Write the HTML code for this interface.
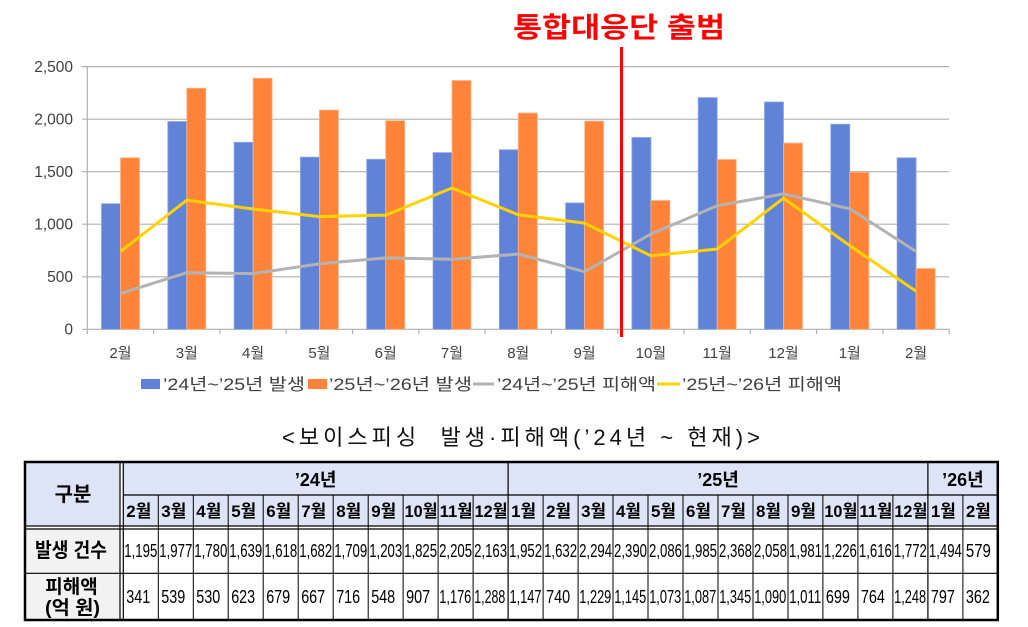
<!DOCTYPE html>
<html><head><meta charset="utf-8"><style>
html,body{margin:0;padding:0;background:#fff;width:1028px;height:627px;overflow:hidden}
svg{display:block}
text{font-family:"Liberation Sans","Noto Sans CJK KR",sans-serif}
</style></head><body>
<svg width="1028" height="627" viewBox="0 0 1028 627" xmlns="http://www.w3.org/2000/svg">
<rect width="1028" height="627" fill="#fff"/>
<!-- title -->
<text x="513" y="37" font-size="28" font-weight="bold" fill="#ff0000" textLength="212" lengthAdjust="spacingAndGlyphs">통합대응단 출범</text>
<!-- gridlines -->
<g stroke="#b0b0b0" stroke-width="1.2">
<line x1="82" y1="66.6" x2="949" y2="66.6"/>
<line x1="82" y1="119.2" x2="949" y2="119.2"/>
<line x1="82" y1="171.7" x2="949" y2="171.7"/>
<line x1="82" y1="224.2" x2="949" y2="224.2"/>
<line x1="82" y1="276.8" x2="949" y2="276.8"/>
<line x1="82" y1="329.3" x2="949" y2="329.3"/>
<line x1="87.3" y1="66.6" x2="87.3" y2="334"/>
</g>
<g stroke="#b0b0b0" stroke-width="1.2">
<line x1="153.6" y1="329" x2="153.6" y2="334"/><line x1="219.9" y1="329" x2="219.9" y2="334"/><line x1="286.2" y1="329" x2="286.2" y2="334"/><line x1="352.5" y1="329" x2="352.5" y2="334"/><line x1="418.8" y1="329" x2="418.8" y2="334"/><line x1="485.1" y1="329" x2="485.1" y2="334"/><line x1="551.4" y1="329" x2="551.4" y2="334"/><line x1="617.7" y1="329" x2="617.7" y2="334"/><line x1="684" y1="329" x2="684" y2="334"/><line x1="750.3" y1="329" x2="750.3" y2="334"/><line x1="816.6" y1="329" x2="816.6" y2="334"/><line x1="882.9" y1="329" x2="882.9" y2="334"/><line x1="949.2" y1="329" x2="949.2" y2="334"/>
</g>
<!-- y labels -->
<g font-size="15.5" fill="#404040" text-anchor="end">
<text x="73" y="72">2,500</text>
<text x="73" y="124.5">2,000</text>
<text x="73" y="177">1,500</text>
<text x="73" y="229.5">1,000</text>
<text x="73" y="282">500</text>
<text x="73" y="334.5">0</text>
</g>
<!-- bars -->
<g fill="#6183d7" stroke="#8ea7e6" stroke-width="0.8">
<rect x="101.5" y="203.7" width="19" height="125.6"/>
<rect x="167.8" y="121.5" width="19" height="207.8"/>
<rect x="234.1" y="142.3" width="19" height="187"/>
<rect x="300.4" y="157.1" width="19" height="172.2"/>
<rect x="366.7" y="159.3" width="19" height="170"/>
<rect x="433" y="152.6" width="19" height="176.7"/>
<rect x="499.3" y="149.7" width="19" height="179.6"/>
<rect x="565.6" y="202.9" width="19" height="126.4"/>
<rect x="631.9" y="137.5" width="19" height="191.8"/>
<rect x="698.2" y="97.6" width="19" height="231.7"/>
<rect x="764.5" y="102" width="19" height="227.3"/>
<rect x="830.8" y="124.2" width="19" height="205.1"/>
<rect x="897.1" y="157.8" width="19" height="171.5"/>
</g>
<g fill="#ff8439" stroke="#ffb588" stroke-width="0.8">
<rect x="120.5" y="157.8" width="19" height="171.5"/>
<rect x="186.8" y="88.2" width="19" height="241.1"/>
<rect x="253.1" y="78.2" width="19" height="251.1"/>
<rect x="319.4" y="110.1" width="19" height="219.2"/>
<rect x="385.7" y="120.7" width="19" height="208.6"/>
<rect x="452" y="80.5" width="19" height="248.8"/>
<rect x="518.3" y="113" width="19" height="216.3"/>
<rect x="584.6" y="121.1" width="19" height="208.2"/>
<rect x="650.9" y="200.5" width="19" height="128.8"/>
<rect x="717.2" y="159.5" width="19" height="169.8"/>
<rect x="783.5" y="143.1" width="19" height="186.2"/>
<rect x="849.8" y="172.3" width="19" height="157"/>
<rect x="916.1" y="268.5" width="19" height="60.8"/>
</g>
<!-- lines -->
<polyline fill="none" stroke="#b3b3b3" stroke-width="3" stroke-linejoin="round" points="120.5,293.5 186.8,272.7 253.1,273.6 319.4,263.8 385.7,257.9 452,259.2 518.3,254.1 584.6,271.7 650.9,234 717.2,205.7 783.5,193.9 849.8,208.8 916.1,251.5"/>
<polyline fill="none" stroke="#ffd200" stroke-width="3" stroke-linejoin="round" points="120.5,251.5 186.8,200.2 253.1,209 319.4,216.6 385.7,215.1 452,188 518.3,214.8 584.6,223.1 650.9,255.8 717.2,249 783.5,198.2 849.8,245.6 916.1,291.3"/>
<!-- red marker line -->
<line x1="621.5" y1="47" x2="621.5" y2="337" stroke="#ff0000" stroke-width="3"/>
<!-- x labels -->
<g font-size="15" fill="#404040" text-anchor="middle">
<text x="120.5" y="358">2월</text><text x="186.8" y="358">3월</text><text x="253.1" y="358">4월</text><text x="319.4" y="358">5월</text><text x="385.7" y="358">6월</text><text x="452" y="358">7월</text><text x="518.3" y="358">8월</text><text x="584.6" y="358">9월</text><text x="650.9" y="358">10월</text><text x="717.2" y="358">11월</text><text x="783.5" y="358">12월</text><text x="849.8" y="358">1월</text><text x="916.1" y="358">2월</text>
</g>
<!-- legend -->
<rect x="141" y="379" width="19" height="10" fill="#6183d7"/>
<text x="163" y="390" font-size="16.5" fill="#404040" textLength="142" lengthAdjust="spacingAndGlyphs">’24년~’25년 발생</text>
<rect x="308" y="379" width="19" height="10" fill="#ff8439"/>
<text x="329" y="390" font-size="16.5" fill="#404040" textLength="143" lengthAdjust="spacingAndGlyphs">’25년~’26년 발생</text>
<line x1="473" y1="384" x2="494" y2="384" stroke="#b3b3b3" stroke-width="3"/>
<text x="497" y="390" font-size="16.5" fill="#404040" textLength="159" lengthAdjust="spacingAndGlyphs">’24년~’25년 피해액</text>
<line x1="657" y1="384" x2="680" y2="384" stroke="#ffd200" stroke-width="3"/>
<text x="682" y="390" font-size="16.5" fill="#404040" textLength="160" lengthAdjust="spacingAndGlyphs">’25년~’26년 피해액</text>
<!-- caption -->
<text x="282" y="445" font-size="22" fill="#111" textLength="478" lengthAdjust="spacing" xml:space="preserve" style="white-space:pre">&lt;보이스피싱  발생·피해액(’24년 ~ 현재)&gt;</text>

<!-- table -->
<rect x="25" y="462" width="95" height="64" fill="#dde4f5"/>
<rect x="123.3" y="462" width="874.5" height="64" fill="#dde4f5"/>
<rect x="25" y="529" width="95" height="91" fill="#f2f2f2"/>
<g stroke="#000" stroke-width="1.2">
<line x1="123.3" y1="495" x2="998" y2="495"/>
<line x1="25" y1="526" x2="998" y2="526"/>
<line x1="25" y1="529" x2="998" y2="529"/>
<line x1="25" y1="573.3" x2="998" y2="573.3"/>
<line x1="120" y1="462" x2="120" y2="620"/>
<line x1="123.3" y1="462" x2="123.3" y2="620"/>
<line x1="508.1" y1="462" x2="508.1" y2="620"/>
<line x1="927.9" y1="462" x2="927.9" y2="620"/>
</g>
<g stroke="#000" stroke-width="1">
<line x1="158.3" y1="495" x2="158.3" y2="620"/><line x1="193.3" y1="495" x2="193.3" y2="620"/><line x1="228.2" y1="495" x2="228.2" y2="620"/><line x1="263.2" y1="495" x2="263.2" y2="620"/><line x1="298.2" y1="495" x2="298.2" y2="620"/><line x1="333.2" y1="495" x2="333.2" y2="620"/><line x1="368.2" y1="495" x2="368.2" y2="620"/><line x1="403.1" y1="495" x2="403.1" y2="620"/><line x1="438.1" y1="495" x2="438.1" y2="620"/><line x1="473.1" y1="495" x2="473.1" y2="620"/>
<line x1="543.1" y1="495" x2="543.1" y2="620"/><line x1="578.1" y1="495" x2="578.1" y2="620"/><line x1="613" y1="495" x2="613" y2="620"/><line x1="648" y1="495" x2="648" y2="620"/><line x1="683" y1="495" x2="683" y2="620"/><line x1="718" y1="495" x2="718" y2="620"/><line x1="753" y1="495" x2="753" y2="620"/><line x1="788" y1="495" x2="788" y2="620"/><line x1="822.9" y1="495" x2="822.9" y2="620"/><line x1="857.9" y1="495" x2="857.9" y2="620"/><line x1="892.9" y1="495" x2="892.9" y2="620"/><line x1="962.9" y1="495" x2="962.9" y2="620"/>
</g>
<rect x="25" y="462" width="972.8" height="158" fill="none" stroke="#000" stroke-width="2.5"/>

<!-- header text -->
<g font-weight="bold" fill="#000">
<text x="73" y="501" font-size="20" text-anchor="middle">구분</text>
<text x="315.7" y="486" font-size="18" text-anchor="middle">’24년</text>
<text x="718" y="486" font-size="18" text-anchor="middle">’25년</text>
<text x="962.9" y="486" font-size="18" text-anchor="middle">’26년</text>
</g>
<g font-weight="bold" font-size="17" fill="#000">
<text x="126.3" y="517" textLength="25" lengthAdjust="spacingAndGlyphs">2월</text>
<text x="161.3" y="517" textLength="25" lengthAdjust="spacingAndGlyphs">3월</text>
<text x="196.3" y="517" textLength="25" lengthAdjust="spacingAndGlyphs">4월</text>
<text x="231.2" y="517" textLength="25" lengthAdjust="spacingAndGlyphs">5월</text>
<text x="266.2" y="517" textLength="25" lengthAdjust="spacingAndGlyphs">6월</text>
<text x="301.2" y="517" textLength="25" lengthAdjust="spacingAndGlyphs">7월</text>
<text x="336.2" y="517" textLength="25" lengthAdjust="spacingAndGlyphs">8월</text>
<text x="371.2" y="517" textLength="25" lengthAdjust="spacingAndGlyphs">9월</text>
<text x="404.6" y="517" textLength="33" lengthAdjust="spacingAndGlyphs">10월</text>
<text x="439.6" y="517" textLength="33" lengthAdjust="spacingAndGlyphs">11월</text>
<text x="474.6" y="517" textLength="33" lengthAdjust="spacingAndGlyphs">12월</text>
<text x="511.1" y="517" textLength="25" lengthAdjust="spacingAndGlyphs">1월</text>
<text x="546.1" y="517" textLength="25" lengthAdjust="spacingAndGlyphs">2월</text>
<text x="581.1" y="517" textLength="25" lengthAdjust="spacingAndGlyphs">3월</text>
<text x="616" y="517" textLength="25" lengthAdjust="spacingAndGlyphs">4월</text>
<text x="651" y="517" textLength="25" lengthAdjust="spacingAndGlyphs">5월</text>
<text x="686" y="517" textLength="25" lengthAdjust="spacingAndGlyphs">6월</text>
<text x="721" y="517" textLength="25" lengthAdjust="spacingAndGlyphs">7월</text>
<text x="756" y="517" textLength="25" lengthAdjust="spacingAndGlyphs">8월</text>
<text x="791" y="517" textLength="25" lengthAdjust="spacingAndGlyphs">9월</text>
<text x="824.4" y="517" textLength="33" lengthAdjust="spacingAndGlyphs">10월</text>
<text x="859.4" y="517" textLength="33" lengthAdjust="spacingAndGlyphs">11월</text>
<text x="894.4" y="517" textLength="33" lengthAdjust="spacingAndGlyphs">12월</text>
<text x="930.9" y="517" textLength="25" lengthAdjust="spacingAndGlyphs">1월</text>
<text x="965.9" y="517" textLength="25" lengthAdjust="spacingAndGlyphs">2월</text>
</g>
<!-- row labels -->
<g font-weight="bold" fill="#000">
<text x="35" y="557" font-size="20" textLength="72" lengthAdjust="spacingAndGlyphs">발생 건수</text>
<text x="71.5" y="593" font-size="19" text-anchor="middle">피해액</text>
<text x="45" y="614" font-size="19" textLength="55" lengthAdjust="spacingAndGlyphs">(억 원)</text>
</g>
<!-- row 1 data -->
<g font-size="18" fill="#000">
<text x="124.3" y="557" textLength="33" lengthAdjust="spacingAndGlyphs">1,195</text>
<text x="159.3" y="557" textLength="33" lengthAdjust="spacingAndGlyphs">1,977</text>
<text x="194.3" y="557" textLength="33" lengthAdjust="spacingAndGlyphs">1,780</text>
<text x="229.2" y="557" textLength="33" lengthAdjust="spacingAndGlyphs">1,639</text>
<text x="264.2" y="557" textLength="33" lengthAdjust="spacingAndGlyphs">1,618</text>
<text x="299.2" y="557" textLength="33" lengthAdjust="spacingAndGlyphs">1,682</text>
<text x="334.2" y="557" textLength="33" lengthAdjust="spacingAndGlyphs">1,709</text>
<text x="369.2" y="557" textLength="33" lengthAdjust="spacingAndGlyphs">1,203</text>
<text x="404.1" y="557" textLength="33" lengthAdjust="spacingAndGlyphs">1,825</text>
<text x="439.1" y="557" textLength="33" lengthAdjust="spacingAndGlyphs">2,205</text>
<text x="474.1" y="557" textLength="33" lengthAdjust="spacingAndGlyphs">2,163</text>
<text x="509.1" y="557" textLength="33" lengthAdjust="spacingAndGlyphs">1,952</text>
<text x="544.1" y="557" textLength="33" lengthAdjust="spacingAndGlyphs">1,632</text>
<text x="579.1" y="557" textLength="33" lengthAdjust="spacingAndGlyphs">2,294</text>
<text x="614" y="557" textLength="33" lengthAdjust="spacingAndGlyphs">2,390</text>
<text x="649" y="557" textLength="33" lengthAdjust="spacingAndGlyphs">2,086</text>
<text x="684" y="557" textLength="33" lengthAdjust="spacingAndGlyphs">1,985</text>
<text x="719" y="557" textLength="33" lengthAdjust="spacingAndGlyphs">2,368</text>
<text x="754" y="557" textLength="33" lengthAdjust="spacingAndGlyphs">2,058</text>
<text x="789" y="557" textLength="33" lengthAdjust="spacingAndGlyphs">1,981</text>
<text x="823.9" y="557" textLength="33" lengthAdjust="spacingAndGlyphs">1,226</text>
<text x="858.9" y="557" textLength="33" lengthAdjust="spacingAndGlyphs">1,616</text>
<text x="893.9" y="557" textLength="33" lengthAdjust="spacingAndGlyphs">1,772</text>
<text x="928.9" y="557" textLength="33" lengthAdjust="spacingAndGlyphs">1,494</text>
<text x="965.9" y="557" textLength="25" lengthAdjust="spacingAndGlyphs">579</text>
</g>
<!-- row 2 data -->
<g font-size="18" fill="#000">
<text x="126.3" y="603" textLength="24" lengthAdjust="spacingAndGlyphs">341</text>
<text x="161.3" y="603" textLength="24" lengthAdjust="spacingAndGlyphs">539</text>
<text x="196.3" y="603" textLength="24" lengthAdjust="spacingAndGlyphs">530</text>
<text x="231.2" y="603" textLength="24" lengthAdjust="spacingAndGlyphs">623</text>
<text x="266.2" y="603" textLength="24" lengthAdjust="spacingAndGlyphs">679</text>
<text x="301.2" y="603" textLength="24" lengthAdjust="spacingAndGlyphs">667</text>
<text x="336.2" y="603" textLength="24" lengthAdjust="spacingAndGlyphs">716</text>
<text x="371.2" y="603" textLength="24" lengthAdjust="spacingAndGlyphs">548</text>
<text x="406.1" y="603" textLength="24" lengthAdjust="spacingAndGlyphs">907</text>
<text x="439.3" y="603" textLength="32" lengthAdjust="spacingAndGlyphs">1,176</text>
<text x="474.3" y="603" textLength="31" lengthAdjust="spacingAndGlyphs">1,288</text>
<text x="509.5" y="603" textLength="32" lengthAdjust="spacingAndGlyphs">1,147</text>
<text x="546.1" y="603" textLength="24" lengthAdjust="spacingAndGlyphs">740</text>
<text x="579.3" y="603" textLength="32" lengthAdjust="spacingAndGlyphs">1,229</text>
<text x="614.2" y="603" textLength="32" lengthAdjust="spacingAndGlyphs">1,145</text>
<text x="649.2" y="603" textLength="32" lengthAdjust="spacingAndGlyphs">1,073</text>
<text x="684.2" y="603" textLength="32" lengthAdjust="spacingAndGlyphs">1,087</text>
<text x="719.2" y="603" textLength="32" lengthAdjust="spacingAndGlyphs">1,345</text>
<text x="754.2" y="603" textLength="32" lengthAdjust="spacingAndGlyphs">1,090</text>
<text x="789.2" y="603" textLength="32" lengthAdjust="spacingAndGlyphs">1,011</text>
<text x="825.9" y="603" textLength="24" lengthAdjust="spacingAndGlyphs">699</text>
<text x="860.9" y="603" textLength="24" lengthAdjust="spacingAndGlyphs">764</text>
<text x="894.1" y="603" textLength="32" lengthAdjust="spacingAndGlyphs">1,248</text>
<text x="930.9" y="603" textLength="24" lengthAdjust="spacingAndGlyphs">797</text>
<text x="965.9" y="603" textLength="24" lengthAdjust="spacingAndGlyphs">362</text>
</g>
</svg>
</body></html>
